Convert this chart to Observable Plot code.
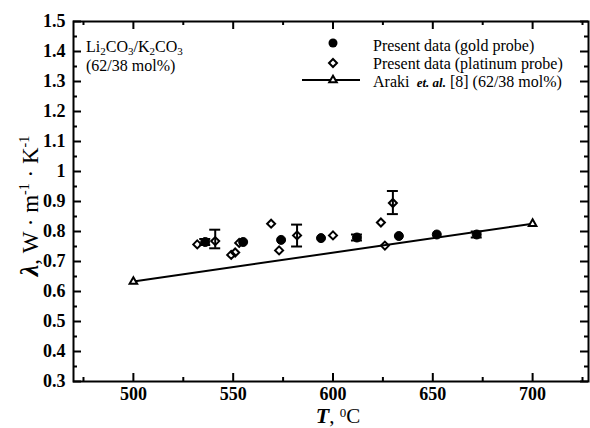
<!DOCTYPE html>
<html>
<head>
<meta charset="utf-8">
<script src="https://cdn.jsdelivr.net/npm/d3@7"></script>
<script src="https://cdn.jsdelivr.net/npm/@observablehq/plot@0.6"></script>
<style>
  html, body { margin: 0; padding: 0; background: #fff; overflow: hidden; }
  #chart { width: 590px; height: 428px; }
</style>
</head>
<body>
<div id="chart"></div>
<script>
// Thermal conductivity of the Li2CO3/K2CO3 (62/38 mol%) melt against temperature

// Gold probe measurements
const goldT = [536, 555, 574, 594, 612, 633, 652, 672];
const goldLambda = [0.765, 0.765, 0.772, 0.778, 0.780, 0.785, 0.790, 0.790];

// Platinum probe measurements
const platT = [532, 541, 549, 551, 553, 569, 573, 582, 600, 624, 626, 630];
const platLambda = [0.757, 0.768, 0.722, 0.730, 0.762, 0.826, 0.737, 0.787, 0.787, 0.830, 0.753, 0.895];

// Error bars on selected measurements
const errT = [536, 541, 582, 612, 630, 672];
const errLow = [0.755, 0.744, 0.750, 0.770, 0.858, 0.780];
const errHigh = [0.775, 0.806, 0.823, 0.790, 0.935, 0.800];

// Araki et al. correlation
const arakiT = [500, 700];
const arakiLambda = [0.633, 0.826];

// Axis ticks
const xMajor = [500, 550, 600, 650, 700];
const xMinor = [475, 525, 575, 625, 675, 725];
const yMajor = [0.3, 0.4, 0.5, 0.6, 0.7, 0.8, 0.9, 1.0, 1.1, 1.2, 1.3, 1.4, 1.5];
const yMinor = [0.35, 0.45, 0.55, 0.65, 0.75, 0.85, 0.95, 1.05, 1.15, 1.25, 1.35, 1.45];

const W = 590, H = 428;
const mL = 73, mR = 2, mT = 21, mB = 47;
const frameW = W - mL - mR, frameH = H - mT - mB;
const majorLen = 8, minorLen = 4;
const capHalf = 2.75; // error bar cap half-width, in °C

const gold = goldT.map((t, i) => ({T: t, L: goldLambda[i]}));
const plat = platT.map((t, i) => ({T: t, L: platLambda[i]}));
const errs = errT.map((t, i) => ({T: t, lo: errLow[i], hi: errHigh[i]}));
const araki = arakiT.map((t, i) => ({T: t, L: arakiLambda[i]}));

const FONT = "'Liberation Serif', 'Times New Roman', serif";

const plot = Plot.plot({
  width: W,
  height: H,
  marginLeft: mL,
  marginRight: mR,
  marginTop: mT,
  marginBottom: mB,
  x: {domain: [470, 728]},
  y: {domain: [0.3, 1.5]},
  style: {fontFamily: FONT, fontSize: "18px", color: "#000", background: "#fff", overflow: "visible"},
  marks: [
    // inward tick marks on all four sides
    Plot.tickX(xMajor, {x: d => d, insetTop: frameH - majorLen, stroke: "#000", strokeWidth: 2}),
    Plot.tickX(xMinor, {x: d => d, insetTop: frameH - minorLen, stroke: "#000", strokeWidth: 2}),
    Plot.tickX(xMajor, {x: d => d, insetBottom: frameH - majorLen, stroke: "#000", strokeWidth: 2}),
    Plot.tickX(xMinor, {x: d => d, insetBottom: frameH - minorLen, stroke: "#000", strokeWidth: 2}),
    Plot.tickY(yMajor, {y: d => d, insetRight: frameW - majorLen, stroke: "#000", strokeWidth: 2}),
    Plot.tickY(yMinor, {y: d => d, insetRight: frameW - minorLen, stroke: "#000", strokeWidth: 2}),
    Plot.tickY(yMajor, {y: d => d, insetLeft: frameW - majorLen, stroke: "#000", strokeWidth: 2}),
    Plot.tickY(yMinor, {y: d => d, insetLeft: frameW - minorLen, stroke: "#000", strokeWidth: 2}),
    Plot.frame({stroke: "#000", strokeWidth: 2}),
    Plot.axisX({ticks: xMajor, tickSize: 0, tickPadding: 6, label: null, fontSize: 18, fontWeight: "bold"}),
    Plot.axisY({ticks: yMajor, tickSize: 0, tickPadding: 8, label: null, fontSize: 18, fontWeight: "bold",
                tickFormat: d => String(+d.toFixed(1))}),
    // Araki et al. line
    Plot.line(araki, {x: "T", y: "L", stroke: "#000", strokeWidth: 2}),
    Plot.dot(araki, {x: "T", y: "L", symbol: "triangle", r: 2.8, fill: "#fff", stroke: "#000", strokeWidth: 2}),
    // gold probe
    Plot.dot(gold, {x: "T", y: "L", symbol: "circle", r: 4.5, fill: "#000", stroke: "#000", strokeWidth: 1}),
    // platinum probe
    Plot.dot(plat, {x: "T", y: "L", symbol: "diamond2", r: 3.6, fill: "none", stroke: "#000", strokeWidth: 2}),
    // error bars
    Plot.ruleX(errs, {x: "T", y1: "lo", y2: "hi", stroke: "#000", strokeWidth: 2}),
    Plot.ruleY(errs, {y: "hi", x1: d => d.T - capHalf, x2: d => d.T + capHalf, stroke: "#000", strokeWidth: 2}),
    Plot.ruleY(errs, {y: "lo", x1: d => d.T - capHalf, x2: d => d.T + capHalf, stroke: "#000", strokeWidth: 2})
  ]
});

document.getElementById("chart").appendChild(plot);

// Rich text helper: parts are [text, {style}] pairs, with optional sup/sub shifts
function richText(parent, x, y, parts, opts = {}) {
  const t = parent.append("text")
    .attr("x", x).attr("y", y)
    .attr("font-family", FONT)
    .attr("font-size", opts.size || 16)
    .attr("fill", "#000")
    .attr("text-anchor", opts.anchor || "start");
  if (opts.weight) t.attr("font-weight", opts.weight);
  if (opts.transform) t.attr("transform", opts.transform);
  for (const [txt, st = {}] of parts) {
    const s = t.append("tspan").text(txt);
    if (st.weight) s.attr("font-weight", st.weight);
    if (st.italic) s.attr("font-style", "italic");
    if (st.size) s.attr("font-size", st.size);
    if (st.shift) s.attr("baseline-shift", st.shift);
  }
  return t;
}

const svg = d3.select(plot);
const g = svg.append("g");

// axis titles
richText(g, 338, 423, [
  ["T", {weight: "bold", italic: true, size: 22}],
  [", ", {size: 21}],
  ["0", {size: 13, shift: "6px"}],
  ["C", {size: 21}]
], {anchor: "middle"});

richText(g, 0, 0, [
  ["λ", {weight: "bold", italic: true, size: 26}],
  [", W · m", {size: 23}],
  ["-1", {size: 14, shift: "9px"}],
  [" · K", {size: 23}],
  ["-1", {size: 14, shift: "9px"}]
], {anchor: "middle", transform: "translate(38,206) rotate(-90)"});

// composition annotation
richText(g, 86, 52, [
  ["Li", {}], ["2", {size: 11, shift: "-3px"}], ["CO", {}], ["3", {size: 11, shift: "-3px"}],
  ["/K", {}], ["2", {size: 11, shift: "-3px"}], ["CO", {}], ["3", {size: 11, shift: "-3px"}]
], {size: 16});
richText(g, 86, 71, [["(62/38 mol%)", {}]], {size: 16});

// legend
const lg = svg.append("g");
const symX = 333, txtX = 373;
lg.append("circle").attr("cx", symX).attr("cy", 43).attr("r", 4.5).attr("fill", "#000");
lg.append("path").attr("d", d3.symbol(d3.symbolDiamond2, 3.6 * 3.6 * Math.PI)())
  .attr("transform", `translate(${symX},63)`).attr("fill", "none").attr("stroke", "#000").attr("stroke-width", 2);
lg.append("line").attr("x1", 302).attr("x2", 360).attr("y1", 80).attr("y2", 80)
  .attr("stroke", "#000").attr("stroke-width", 2);
lg.append("path").attr("d", d3.symbol(d3.symbolTriangle, 2.8 * 2.8 * Math.PI)())
  .attr("transform", `translate(${symX},80)`).attr("fill", "#fff").attr("stroke", "#000").attr("stroke-width", 2);
richText(lg, txtX, 51, [["Present data (gold probe)", {}]], {size: 16});
richText(lg, txtX, 69, [["Present data (platinum probe)", {}]], {size: 16});
richText(lg, txtX, 87, [
  ["Araki ", {}], [" et. al.", {weight: "bold", italic: true, size: 13}], [" [8] (62/38 mol%)", {}]
], {size: 16});
</script>
</body>
</html>
